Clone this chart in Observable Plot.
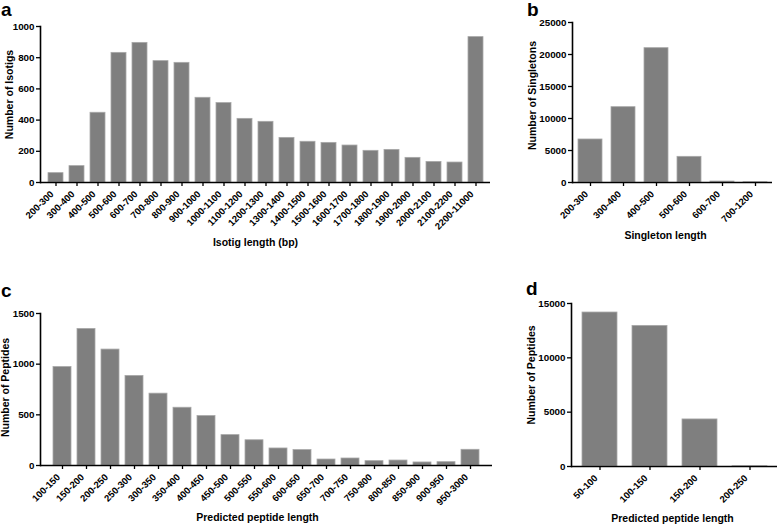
<!DOCTYPE html>
<html>
<head>
<meta charset="utf-8">
<script src="https://cdn.jsdelivr.net/npm/d3@7"></script>
<script src="https://cdn.jsdelivr.net/npm/@observablehq/plot@0.6"></script>
<style>
  html, body { margin: 0; padding: 0; background: #fff; }
  #wrap { position: relative; width: 778px; height: 524px; overflow: hidden; font-family: "Liberation Sans", Arial, sans-serif; }
  .panel { position: absolute; }
  .letter { position: absolute; font-weight: bold; font-size: 19px; line-height: 1; color: #000; }
</style>
</head>
<body>
<div id="wrap"></div>
<script>
// Panel a: isotig length distribution
const isotigBins = ["200-300","300-400","400-500","500-600","600-700","700-800","800-900","900-1000","1000-1100","1100-1200","1200-1300","1300-1400","1400-1500","1500-1600","1600-1700","1700-1800","1800-1900","1900-2000","2000-2100","2100-2200","2200-11000"];
const isotigCounts = [60,105,447,831,895,778,767,543,509,408,389,286,261,254,237,203,209,158,132,128,932];
const isotigTicks = [0,200,400,600,800,1000];

// Panel b: singleton length distribution
const singletonBins = ["200-300","300-400","400-500","500-600","600-700","700-1200"];
const singletonCounts = [6720,11770,20990,4010,150,30];
const singletonTicks = [0,5000,10000,15000,20000,25000];

// Panel c: predicted peptide length (isotigs)
const peptideBinsC = ["100-150","150-200","200-250","250-300","300-350","350-400","400-450","450-500","500-550","550-600","600-650","650-700","700-750","750-800","800-850","850-900","900-950","950-3000"];
const peptideCountsC = [972,1348,1144,884,709,570,488,300,249,168,152,59,69,43,49,30,33,155];
const peptideTicksC = [0,500,1000,1500];

// Panel d: predicted peptide length (singletons)
const peptideBinsD = ["50-100","100-150","150-200","200-250"];
const peptideCountsD = [14170,12940,4330,20];
const peptideTicksD = [0,5000,10000,15000];

const FONT = "Liberation Sans, Arial, sans-serif";
const BAR = "#7f7f7f";

function panel({left, top, width, height, mL, mR, mT, mB, bins, counts, ticks, pi, po, ylabel, xlabel, yDx, yDy, xDx, xDy}) {
  const data = bins.map((b, i) => ({bin: b, count: counts[i]}));
  const chart = Plot.plot({
    width, height,
    marginLeft: mL, marginRight: mR, marginTop: mT, marginBottom: mB,
    style: {fontFamily: FONT, fontWeight: "bold", color: "#000", background: "transparent", overflow: "visible"},
    x: {domain: bins, paddingInner: pi, paddingOuter: po, axis: null},
    y: {domain: [0, ticks[ticks.length - 1]], axis: null},
    marks: [
      Plot.barY(data, {x: "bin", y: "count", fill: BAR, stroke: "#a8a8a8", strokeWidth: 0.8}),
      // tick marks under the baseline
      Plot.axisX({ticks: bins, tickSize: 4, tickFormat: () => "", label: null, stroke: "#000", strokeWidth: 1.3}),
      // rotated category labels
      Plot.axisX({ticks: bins, tickSize: 0, tickPadding: 6, tickRotate: -45, dx: -4, dy: 4, fontSize: 9.5, fontWeight: "bold", label: null}),
      Plot.axisY({ticks: ticks, tickSize: 4, tickPadding: 2, tickFormat: d3.format("d"), fontSize: 9.8, fontWeight: "bold", label: null, stroke: "#000", strokeWidth: 1.3}),
      Plot.ruleY([0], {stroke: "#000", strokeWidth: 1.6}),
      Plot.frame({anchor: "left", stroke: "#000", strokeWidth: 1.6}),
      Plot.text([xlabel], {frameAnchor: "bottom", textAnchor: "middle", dx: xDx, dy: xDy, fontSize: 10.5, fontWeight: "bold", fill: "#000", lineAnchor: "middle"}),
      Plot.text([ylabel], {frameAnchor: "left", textAnchor: "middle", rotate: -90, dx: yDx, dy: yDy, fontSize: 10.5, fontWeight: "bold", fill: "#000", lineAnchor: "middle"})
    ]
  });
  const div = document.createElement("div");
  div.className = "panel";
  div.style.left = left + "px";
  div.style.top = top + "px";
  div.appendChild(chart);
  document.getElementById("wrap").appendChild(div);
}

function letter(t, x, y) {
  const s = document.createElement("div");
  s.className = "letter";
  s.textContent = t;
  s.style.left = x + "px";
  s.style.top = y + "px";
  document.getElementById("wrap").appendChild(s);
}

panel({left: 0, top: 0, width: 495, height: 262, mL: 40, mR: 5, mT: 26, mB: 80,
  bins: isotigBins, counts: isotigCounts, ticks: isotigTicks, pi: 0.3, po: 0.165,
  ylabel: "Number of Isotigs", xlabel: "Isotig length (bp)", yDx: -31, yDy: -10, xDx: -10, xDy: 60});
panel({left: 520, top: 0, width: 256, height: 262, mL: 52, mR: 4, mT: 22, mB: 80,
  bins: singletonBins, counts: singletonCounts, ticks: singletonTicks, pi: 0.28, po: 0.135,
  ylabel: "Number of Singletons", xlabel: "Singleton length", yDx: -40, yDy: -7, xDx: -7, xDy: 53});
panel({left: 0, top: 280, width: 495, height: 244, mL: 40, mR: 3, mT: 33, mB: 59,
  bins: peptideBinsC, counts: peptideCountsC, ticks: peptideTicksC, pi: 0.27, po: 0.175,
  ylabel: "Number of Peptides", xlabel: "Predicted peptide length", yDx: -35, yDy: -2, xDx: -9, xDy: 52});
panel({left: 520, top: 280, width: 258, height: 244, mL: 51, mR: 1, mT: 23, mB: 58,
  bins: peptideBinsD, counts: peptideCountsD, ticks: peptideTicksD, pi: 0.3, po: 0.17,
  ylabel: "Number of Peptides", xlabel: "Predicted peptide length", yDx: -40, yDy: -10, xDx: -2, xDy: 52});

letter("a", 1, 0);
letter("b", 527, 0);
letter("c", 1, 281);
letter("d", 526, 279);
</script>
</body>
</html>
